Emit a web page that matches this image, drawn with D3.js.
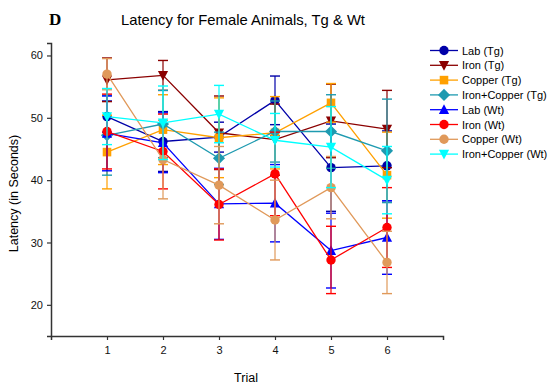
<!DOCTYPE html>
<html>
<head>
<meta charset="utf-8">
<script src="https://cdn.jsdelivr.net/npm/d3@7"></script>
<style>
  body { margin: 0; background: #fff; }
  text { font-family: "Liberation Sans", Arial, sans-serif; }
</style>
</head>
<body>
<div id="chart"></div>
<script>
// Trials on the x axis
const trials = [1, 2, 3, 4, 5, 6];

// Series names, colours and marker shapes
const seriesNames = ["Lab (Tg)", "Iron (Tg)", "Copper (Tg)", "Iron+Copper (Tg)",
                     "Lab (Wt)", "Iron (Wt)", "Copper (Wt)", "Iron+Copper (Wt)"];
const seriesColors = ["#0000a8", "#8b0000", "#ffa000", "#1e9ab0",
                      "#0000ff", "#ff0000", "#e0995a", "#00ffff"];
const seriesShapes = ["circle", "triDown", "square", "diamond",
                      "triUp", "circle", "circle", "triDown"];

// Mean latency per trial
const labTg    = [50.2, 46.2, 46.9, 52.8, 42.0, 42.3];
const ironTg   = [56.1, 56.8, 47.6, 46.5, 49.5, 48.2];
const copperTg = [44.5, 48.1, 46.8, 47.6, 52.4, 40.8];
const ironCuTg = [47.2, 49.0, 43.5, 47.8, 47.8, 44.7];
const labWt    = [47.5, 46.0, 36.2, 36.3, 28.7, 30.8];
const ironWt   = [47.8, 44.6, 36.1, 41.0, 27.2, 32.4];
const copperWt = [57.0, 43.3, 39.2, 33.6, 38.8, 26.8];
const ironCuWt = [50.2, 49.2, 50.6, 46.4, 45.3, 40.0];

// Standard errors per trial
const labTgErr    = [2.5, 4.8, 2.4, 3.9, 7.0, 5.6];
const ironTgErr   = [3.5, 2.4, 5.9, 5.7, 5.9, 6.2];
const copperTgErr = [5.9, 5.6, 6.4, 5.8, 3.1, 6.9];
const ironCuTgErr = [6.4, 5.4, 4.2, 4.9, 5.9, 8.3];
const labWtErr    = [6.0, 4.8, 5.7, 6.2, 6.0, 5.9];
const ironWtErr   = [6.0, 6.0, 5.7, 6.7, 5.4, 6.4];
const copperWtErr = [2.5, 6.3, 6.2, 6.4, 5.0, 5.0];
const ironCuWtErr = [4.5, 5.9, 4.6, 4.3, 6.5, 5.4];

const means = [labTg, ironTg, copperTg, ironCuTg, labWt, ironWt, copperWt, ironCuWt];
const errs = [labTgErr, ironTgErr, copperTgErr, ironCuTgErr, labWtErr, ironWtErr, copperWtErr, ironCuWtErr];

const yTicks = [20, 30, 40, 50, 60];

const width = 556, height = 387;
const margin = { top: 43, right: 113, bottom: 51, left: 51 };

const svg = d3.select("#chart").append("svg")
    .attr("width", width)
    .attr("height", height);

const x = d3.scaleLinear().domain([0, 7]).range([margin.left, width - margin.right]);
const y = d3.scaleLinear().domain([15, 62]).range([height - margin.bottom, margin.top]);

// Panel letter and title
svg.append("text")
    .attr("x", 49).attr("y", 25)
    .style("font-family", "'Liberation Serif', 'Times New Roman', serif")
    .style("font-weight", "bold")
    .style("font-size", "17px")
    .text("D");

svg.append("text")
    .attr("x", 243).attr("y", 25)
    .attr("text-anchor", "middle")
    .style("font-size", "14.8px")
    .text("Latency for Female Animals, Tg & Wt");

// Axes
const xAxis = svg.append("g")
    .attr("transform", `translate(0,${height - margin.bottom})`)
    .call(d3.axisBottom(x).tickValues(trials).tickFormat(d3.format("d")).tickSizeOuter(0).tickSize(4).tickPadding(6));
const yAxis = svg.append("g")
    .attr("transform", `translate(${margin.left},0)`)
    .call(d3.axisLeft(y).tickValues(yTicks).tickSizeOuter(0).tickSize(4).tickPadding(4));

[xAxis, yAxis].forEach(ax => {
    ax.select(".domain").attr("stroke", "#333").attr("stroke-width", 1.5);
    ax.selectAll(".tick line").attr("stroke", "#333").attr("stroke-width", 1.2);
    ax.selectAll(".tick text").style("font-size", "11px").attr("fill", "#111")
        .style("font-family", "'Liberation Sans', Arial, sans-serif");
});

svg.append("text")
    .attr("x", 246).attr("y", 382)
    .attr("text-anchor", "middle")
    .style("font-size", "12.5px")
    .text("Trial");

svg.append("text")
    .attr("transform", `translate(18,${(margin.top + height - margin.bottom) / 2 + 4}) rotate(-90)`)
    .attr("text-anchor", "middle")
    .style("font-size", "12.5px")
    .text("Latency (in Seconds)");

// Marker symbols
function symbolPath(shape, size) {
    const s = size;
    if (shape === "circle") return d3.symbol(d3.symbolCircle, s * s * 0.8)();
    if (shape === "square") return d3.symbol(d3.symbolSquare, s * s * 0.85)();
    if (shape === "diamond") {
        const r = s * 0.65;
        return `M0,${-r}L${r},0L0,${r}L${-r},0Z`;
    }
    const h = s * 0.55;
    if (shape === "triDown") return `M${-h},${-h * 0.85}L${h},${-h * 0.85}L0,${h * 1.05}Z`;
    return `M${-h},${h * 0.85}L${h},${h * 0.85}L0,${-h * 1.05}Z`;
}

const line = d3.line().x(d => x(d.t)).y(d => y(d.v));

means.forEach((vals, si) => {
    const color = seriesColors[si];
    const pts = trials.map((t, i) => ({ t, v: vals[i], e: errs[si][i] }));
    const g = svg.append("g");

    // Error bars
    pts.forEach(p => {
        g.append("line")
            .attr("x1", x(p.t)).attr("x2", x(p.t))
            .attr("y1", y(p.v - p.e)).attr("y2", y(p.v + p.e))
            .attr("stroke", color).attr("stroke-width", 1.2);
        [p.v - p.e, p.v + p.e].forEach(v => {
            g.append("line")
                .attr("x1", x(p.t) - 5).attr("x2", x(p.t) + 5)
                .attr("y1", y(v)).attr("y2", y(v))
                .attr("stroke", color).attr("stroke-width", 1.4);
        });
    });

    g.append("path")
        .datum(pts)
        .attr("d", line)
        .attr("fill", "none")
        .attr("stroke", color)
        .attr("stroke-width", 1.3);

    g.selectAll(".m").data(pts).enter().append("path")
        .attr("transform", d => `translate(${x(d.t)},${y(d.v)})`)
        .attr("d", symbolPath(seriesShapes[si], 9.3))
        .attr("fill", color);
});

// Legend
const legend = svg.append("g");
seriesNames.forEach((name, i) => {
    const ly = 50.5 + i * 14.8;
    legend.append("line")
        .attr("x1", 430).attr("x2", 458)
        .attr("y1", ly).attr("y2", ly)
        .attr("stroke", seriesColors[i]).attr("stroke-width", 1.3);
    legend.append("path")
        .attr("transform", `translate(444,${ly})`)
        .attr("d", symbolPath(seriesShapes[i], 9.3))
        .attr("fill", seriesColors[i]);
    legend.append("text")
        .attr("x", 462).attr("y", ly + 4)
        .style("font-size", "11px")
        .text(name);
});
</script>
</body>
</html>
